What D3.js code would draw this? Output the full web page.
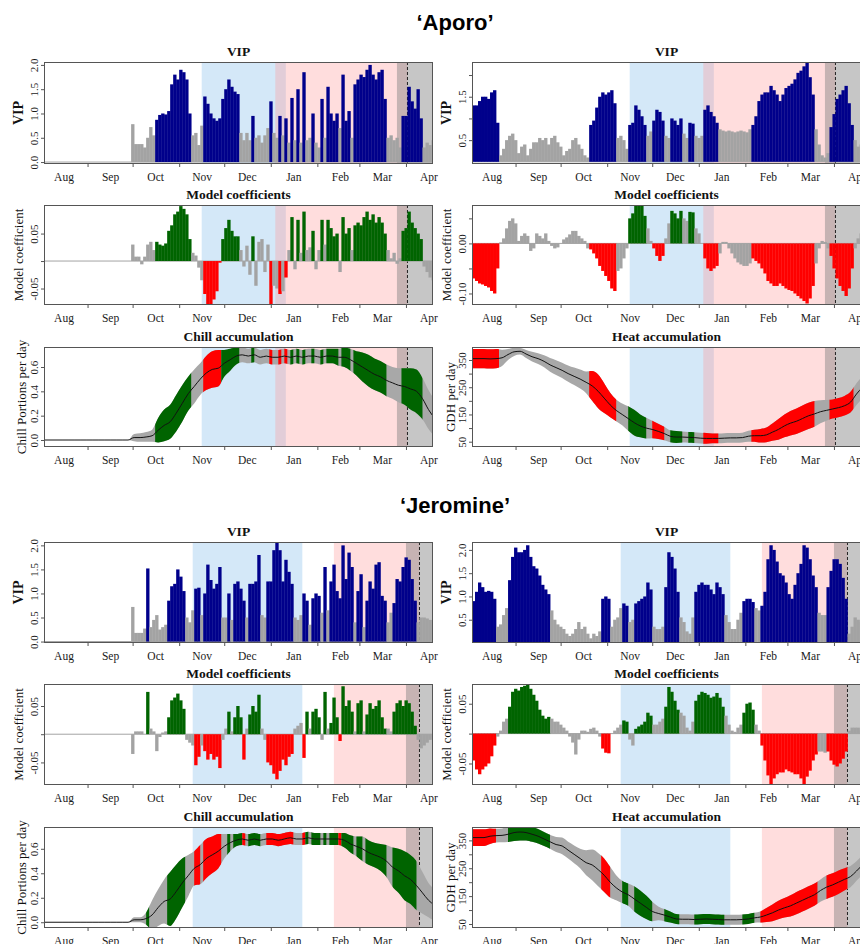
<!DOCTYPE html>
<html>
<head>
<meta charset="utf-8">
<script src="https://cdn.jsdelivr.net/npm/d3@7/dist/d3.min.js"></script>
<style>
html,body{margin:0;padding:0;background:#fff;}
svg{display:block;}
</style>
</head>
<body>
<svg id="chart" width="860" height="944"></svg>
<script>
// ---------------- calendar ----------------
const seasonStart = "2001-08-03";
const seasonEnd = "2002-04-19";
const monthLabels = ["Aug","Sep","Oct","Nov","Dec","Jan","Feb","Mar","Apr"];
const monthStarts = ["2001-08-01","2001-09-01","2001-10-01","2001-11-01","2001-12-01","2002-01-01","2002-02-01","2002-03-01","2002-04-01"];
const barStepDays = 2;     // one bar value per 2 days
const accumStepDays = 4;   // one accumulation value per 4 days

// ---------------- periods ----------------
const aporoChillPeriod = ["2001-11-16","2002-01-11"];
const aporoForcingPeriod = ["2002-01-04","2002-04-02"];
const aporoBloomWindow = ["2002-03-26","2002-04-30"];
const aporoBloomMean = "2002-04-02";
const jeromineChillPeriod = ["2001-11-10","2002-01-22"];
const jeromineForcingPeriod = ["2002-02-12","2002-04-10"];
const jeromineBloomWindow = ["2002-04-01","2002-04-30"];
const jeromineBloomMean = "2002-04-10";

// ---------------- 'Aporo' data ----------------
const aporoVipChill = [0,0,0,0,0,0,0,0,0,0,0,0,0,0,0,0,0,0,0,0,0,0,0,0,0,0,0,0,0,
 0.78,0.37,0.37,0.37,0.3,0.5,0.72,0.55,
 0.87,0.97,1.0,0.98,1.05,1.6,1.8,1.7,1.9,1.85,1.7,1.0,
 0.55,0.6,0.35,0.75,
 1.35,1.2,1.0,0.9,0.85,0.9,
 1.3,1.5,1.7,1.55,1.45,1.4,
 0.6,0.45,0.6,0.45,0.95,0.5,0.55,0.4,0.55,0.7,1.25,0.6,0.5,0.95,0.55,0.9,0.4,1.32,0.45,1.5,0.4,1.85,0.45,0.5,1.0,0.4,0.3,1.3,0.5,
 1.55,1.0,0.85,1.0,0.7,1.8,0.85,1.05,0.5,
 1.6,1.7,1.8,1.75,1.9,2.0,1.8,1.7,1.85,1.9,1.3,
 0.5,0.55,0.45,0.5,0.3,
 0.95,0.95,1.55,1.25,1.1,1.5,0.9,
 0.3,0.4,0.35,0.45];
const aporoCoefChill = [0,0,0,0,0,0,0,0,0,0,0,0,0,0,0,0,0,0,0,0,0,0,0,0,0,0,0,0,0,
 0.03,0.008,0.008,-0.006,0.008,0.03,0.035,0.02,
 0.035,0.03,0.028,0.032,0.055,0.065,0.085,0.09,0.1,0.095,0.085,0.04,
 0.015,0.01,-0.012,-0.035,
 -0.06,-0.08,-0.08,-0.07,-0.055,-0.003,
 0.04,0.06,0.075,0.055,0.045,0.045,
 0.02,-0.01,0.028,-0.025,0.045,-0.045,0.035,0.04,-0.02,0.03,-0.08,-0.045,-0.05,-0.06,-0.055,-0.03,0.02,0.08,-0.015,0.075,0.015,0.09,0.02,0.025,0.055,-0.015,0.02,0.075,0.03,
 0.075,0.06,0.045,0.05,-0.02,0.08,0.05,0.06,0.02,
 0.065,0.07,0.065,0.08,0.09,0.075,0.085,0.07,0.08,0.07,0.05,
 0.02,0.005,0.015,-0.005,0.005,
 0.055,0.06,0.09,0.07,0.06,0.05,0.04,
 -0.01,-0.02,-0.03,-0.035];
const aporoChillMean = [0,0,0,0,0,0,0,0,0,0,0,0,0,0,0,
 0.02,0.02,0.025,0.035,0.08,0.12,0.15,0.22,0.3,0.38,0.44,0.5,0.55,0.58,0.59,
 0.63,0.66,0.69,0.7,0.69,0.7,0.68,0.69,0.68,0.68,0.69,0.68,0.69,0.68,0.69,0.69,0.68,0.69,0.69,0.68,0.68,
 0.66,0.63,0.6,0.57,0.54,0.52,0.49,0.47,0.45,0.44,0.42,0.4,0.34,0.25,0.18];
const aporoChillSd = [0,0,0,0,0,0,0,0,0,0,0,0,0,0,0,
 0.03,0.035,0.04,0.05,0.1,0.13,0.14,0.15,0.15,0.14,0.14,0.13,0.14,0.15,0.15,
 0.11,0.09,0.07,0.06,0.06,0.06,0.06,0.06,0.06,0.06,0.06,0.06,0.06,0.06,0.06,0.06,0.06,0.06,0.06,0.07,0.08,
 0.09,0.1,0.12,0.13,0.13,0.13,0.13,0.13,0.14,0.15,0.17,0.18,0.17,0.16,0.15];
const aporoVipHeat = [1.3,1.3,1.4,1.5,1.5,1.45,1.6,1.65,0.9,
 0.15,0.3,0.5,0.6,0.65,0.5,0.2,0.35,0.4,0.15,0.3,0.45,0.45,0.55,0.5,0.55,0.4,0.55,0.6,0.45,0.35,0.15,0.25,0.3,0.5,0.55,0.4,0.3,0.15,0.1,
 0.85,0.95,1.25,1.5,1.6,1.55,1.6,1.65,1.35,
 0.55,0.6,0.5,0.3,
 0.85,0.9,1.3,1.2,1.05,0.85,
 0.6,0.7,
 0.95,1.2,1.15,0.95,
 0.6,0.55,
 1.0,0.95,0.85,1.0,
 0.65,0.55,
 0.9,0.88,
 0.6,0.55,0.6,
 1.2,1.3,1.15,1.05,0.9,
 0.75,0.72,0.7,0.72,0.7,0.68,0.7,0.72,0.7,0.68,0.75,
 0.85,1.05,1.4,1.55,1.6,1.6,1.75,1.65,1.55,1.4,1.55,1.7,1.75,1.8,1.9,2.05,2.1,2.2,2.3,1.95,1.55,
 0.75,0.4,0.15,0.1,0.2,
 0.8,1.1,1.45,1.55,1.65,1.75,1.35,0.85,
 0.5,0.35,0.4];
const aporoCoefHeat = [-0.07,-0.075,-0.08,-0.082,-0.085,-0.088,-0.095,-0.1,-0.05,
 0.002,0.01,0.03,0.045,0.05,0.04,0.005,0.015,0.02,0.015,-0.015,-0.01,0.02,0.015,0.01,0.02,0.005,-0.005,-0.01,-0.008,0.0,0.008,0.012,0.018,0.025,0.025,0.015,0.01,0.005,-0.01,
 -0.012,-0.02,-0.03,-0.045,-0.055,-0.065,-0.075,-0.09,-0.095,
 -0.055,-0.05,-0.03,-0.01,
 0.05,0.06,0.08,0.08,0.075,0.055,
 0.03,0.005,
 -0.01,-0.025,-0.035,-0.025,
 0.01,0.04,
 0.065,0.06,0.05,0.065,
 0.05,0.045,
 0.063,0.062,
 0.03,0.02,0.0,
 -0.03,-0.05,-0.055,-0.05,-0.045,
 -0.02,0.003,0.003,-0.01,-0.02,-0.03,-0.038,-0.042,-0.045,-0.045,-0.04,
 -0.03,-0.035,-0.04,-0.05,-0.06,-0.075,-0.08,-0.085,-0.085,-0.08,-0.085,-0.09,-0.093,-0.095,-0.1,-0.105,-0.11,-0.115,-0.12,-0.11,-0.085,
 -0.04,-0.01,0.005,0.003,-0.01,
 -0.025,-0.05,-0.07,-0.085,-0.095,-0.105,-0.09,-0.05,
 -0.01,0.01,0.02];
const aporoHeatMean = [355,355,355,354,355,358,370,380,382,372,362,
 355,345,332,322,312,300,290,280,268,255,235,
 210,185,165,150,135,120,108,100,95,88,80,
 70,67,67,66,65,63,62,62,62,63,64,
 64,65,70,72,72,75,85,95,108,118,125,
 135,145,152,160,165,170,175,182,195,225,250];
const aporoHeatSd = [35,35,35,35,35,30,20,15,12,15,18,
 20,22,25,27,28,30,32,35,40,55,62,
 55,45,40,40,45,47,42,38,32,28,25,
 22,22,20,20,20,20,20,18,18,18,18,
 18,18,20,22,25,27,32,38,42,45,47,
 48,48,47,42,38,35,35,36,38,40,40];

// ---------------- 'Jeromine' data ----------------
const jeromineVipChill = [0,0,0,0,0,0,0,0,0,0,0,0,0,0,0,0,0,0,0,0,0,0,0,0,0,0,0,0,0,
 0.72,0.18,0.18,0.18,0.27,1.52,
 0.3,0.45,0.55,0.25,0.3,0.35,
 0.85,1.15,1.2,1.5,1.35,1.05,
 0.5,0.4,0.65,1.1,1.12,0.55,
 1.0,1.6,1.28,1.1,1.2,1.55,
 0.5,0.5,1.0,0.45,
 1.2,1.25,1.1,0.85,0.5,
 1.2,1.2,1.25,1.8,0.55,0.5,
 1.25,1.25,1.9,2.05,1.9,1.25,1.7,1.45,1.2,
 0.5,0.45,0.55,1.0,0.85,0.35,
 0.9,1.0,0.95,0.6,1.55,0.65,
 1.25,1.6,1.05,0.9,
 2.0,1.3,1.85,1.55,0.4,1.05,1.4,0.3,
 0.85,1.25,1.1,1.6,1.65,0.95,0.85,
 0.4,0.6,
 0.8,1.3,1.25,1.55,1.75,1.7,1.3,0.85,
 0.4,0.5,0.5,0.48,0.45,0.35];
const jeromineCoefChill = [0,0,0,0,0,0,0,0,0,0,0,0,0,0,0,0,0,0,0,0,0,0,0,0,0,0,0,0,0,
 -0.035,0.005,0.005,0.005,0.0,0.075,
 0.01,0.005,-0.03,-0.005,0.003,0.005,
 0.03,0.06,0.065,0.072,0.06,0.045,
 -0.01,-0.015,-0.02,-0.055,-0.04,-0.02,
 -0.03,-0.045,-0.035,-0.045,-0.04,-0.06,
 -0.01,0.01,0.04,0.005,
 0.03,0.05,0.03,-0.045,0.01,
 0.035,0.05,0.04,0.07,0.01,-0.01,
 -0.05,-0.055,-0.07,-0.08,-0.065,-0.045,-0.055,-0.04,-0.035,
 0.01,0.015,0.02,-0.042,0.04,0.01,
 0.04,0.045,0.03,-0.01,0.075,0.01,
 0.02,0.065,0.03,-0.012,
 0.085,0.05,0.06,0.04,0.005,0.055,0.06,0.005,
 0.035,0.055,0.045,0.05,0.06,0.03,0.01,
 0.01,0.005,
 0.04,0.055,0.06,0.05,0.06,0.055,0.04,0.015,
 -0.01,-0.025,-0.02,-0.015,-0.01,-0.005];
const jeromineChillMean = [0,0,0,0,0,0,0,0,0,0,0,0,0,0,0,
 0.02,0.02,0.03,0.06,0.12,0.17,0.19,0.25,0.32,0.38,0.44,0.47,0.52,0.55,0.58,
 0.62,0.65,0.67,0.68,0.67,0.68,0.67,0.68,0.68,0.67,0.68,0.69,0.68,0.68,0.69,0.68,0.68,0.68,0.68,0.68,0.67,
 0.64,0.62,0.6,0.57,0.55,0.53,0.5,0.45,0.42,0.38,0.35,0.3,0.24,0.18,0.14];
const jeromineChillSd = [0,0,0,0,0,0,0,0,0,0,0,0,0,0,0,
 0.02,0.02,0.05,0.12,0.15,0.18,0.22,0.22,0.2,0.17,0.14,0.16,0.16,0.15,0.14,
 0.1,0.07,0.05,0.05,0.05,0.05,0.05,0.05,0.05,0.05,0.05,0.05,0.05,0.05,0.05,0.05,0.05,0.05,0.05,0.05,0.06,
 0.07,0.08,0.1,0.1,0.1,0.11,0.13,0.16,0.18,0.2,0.2,0.2,0.17,0.14,0.13];
const jeromineVipHeat = [0.9,1.1,1.3,1.2,1.1,1.12,1.1,0.95,
 0.35,0.4,0.6,0.75,
 1.35,1.85,2.05,1.95,1.95,2.0,2.1,1.85,1.65,1.6,1.45,1.25,1.15,1.05,
 0.7,0.5,0.4,0.35,0.3,0.2,0.15,0.2,0.3,0.45,0.3,0.35,0.2,0.1,0.2,0.15,0.25,
 0.95,1.0,0.95,
 0.35,0.5,0.55,0.75,
 0.85,0.8,
 0.45,0.5,
 0.85,0.9,0.95,1.0,1.3,1.15,
 0.35,0.3,0.3,0.35,
 1.2,1.95,1.85,1.6,1.1,
 0.55,0.45,0.25,0.2,0.55,
 1.1,1.25,1.3,1.25,1.25,1.15,1.05,1.3,1.2,1.05,
 0.6,0.45,0.3,0.3,0.5,0.65,
 0.9,0.95,0.95,0.88,
 0.75,0.7,
 0.8,1.1,1.8,2.1,2.0,1.75,1.5,1.45,1.3,1.05,0.95,1.25,1.5,1.7,2.1,2.05,1.8,1.45,1.2,
 0.65,0.6,0.6,
 1.2,1.55,1.8,1.8,1.7,1.4,0.95,
 0.2,0.35,0.55,0.5,0.45];
const jeromineCoefHeat = [-0.045,-0.06,-0.068,-0.06,-0.055,-0.05,-0.038,-0.02,
 -0.005,0.005,0.02,0.025,
 0.045,0.07,0.075,0.072,0.078,0.08,0.085,0.075,0.065,0.055,0.04,0.03,0.025,0.028,
 0.025,0.02,0.02,0.015,0.01,0.005,-0.005,-0.015,-0.035,-0.01,0.005,0.005,0.003,0.008,0.01,0.005,-0.005,
 -0.025,-0.032,-0.033,
 0.0,0.005,0.01,0.015,
 0.022,0.02,
 -0.01,-0.02,
 0.008,0.012,0.015,0.02,0.035,0.03,
 0.015,0.015,0.02,0.025,
 0.045,0.078,0.07,0.055,0.04,
 0.035,0.03,0.01,0.005,0.02,
 0.055,0.065,0.07,0.068,0.065,0.06,0.062,0.068,0.06,0.045,
 0.03,0.015,0.005,0.003,0.01,0.015,
 0.035,0.05,0.052,0.04,
 0.015,0.005,
 -0.02,-0.045,-0.07,-0.085,-0.075,-0.068,-0.065,-0.065,-0.06,-0.063,-0.065,-0.068,-0.068,-0.075,-0.085,-0.072,-0.062,-0.045,-0.035,
 -0.03,-0.03,-0.032,
 -0.03,-0.045,-0.052,-0.055,-0.05,-0.042,-0.03,
 0.005,0.01,0.01,0.01,0.005];
const jeromineHeatMean = [360,360,360,365,367,368,372,378,380,378,372,
 365,355,345,335,330,315,300,285,270,262,245,
 225,200,180,165,155,140,125,110,95,88,82,
 75,68,67,67,66,67,68,67,66,65,65,
 65,66,68,72,75,82,90,100,108,115,125,
 135,145,155,170,182,190,200,210,220,240,262];
const jeromineHeatSd = [30,30,30,28,25,25,28,30,30,28,27,
 26,25,25,27,30,30,32,35,45,55,60,
 60,55,45,40,40,45,45,42,35,25,22,
 20,18,18,18,18,18,18,18,18,18,18,
 18,18,18,18,20,25,30,33,35,38,40,
 40,40,40,40,42,42,42,40,38,35,35];

// ---------------- drawing ----------------
const svg = d3.select("#chart");
const parse = d3.utcParse("%Y-%m-%d");
const t0 = parse(seasonStart), t1 = parse(seasonEnd);
const SERIF = "'Liberation Serif','Times New Roman',Times,serif";
const SANS = "'Liberation Sans',Arial,Helvetica,sans-serif";
const COL = {blue:"#00008b", grey:"#a3a3a3", green:"#006400", red:"#ff0000", band:"#a8a8a8"};
const VIP_THRESHOLD = 0.8;
let clipN = 0;
function newClip(x, y, w, h) {
  const id = "cp" + (clipN++);
  svg.append("clipPath").attr("id", id).append("rect")
    .attr("x", x).attr("y", y).attr("width", w).attr("height", h);
  return `url(#${id})`;
}
const barDate = i => d3.utcDay.offset(t0, i * barStepDays);
const accDate = k => d3.utcDay.offset(t0, k * accumStepDays);
function klass(v, c) {
  if (v < VIP_THRESHOLD) return null;
  if (c > 0) return "pos";
  if (c < 0) return "neg";
  return null;
}

function frame(c) {
  const x = d3.scaleUtc().domain([t0, t1]).range([c.x0, c.x1]);
  const y = d3.scaleLinear().domain(c.yDomain).range([c.bottom, c.top]);
  const g = svg.append("g");
  const inner = g.append("g").attr("clip-path", newClip(c.x0, c.top, c.x1 - c.x0, c.bottom - c.top));
  const P = c.periods;
  const shade = (r, fill) => inner.append("rect")
    .attr("x", x(parse(r[0]))).attr("width", x(parse(r[1])) - x(parse(r[0])))
    .attr("y", c.top).attr("height", c.bottom - c.top).attr("fill", fill);
  shade(P.chill, "rgba(135,190,235,0.36)");
  shade(P.forcing, "rgba(255,150,150,0.32)");
  shade(P.bloom, "rgba(128,128,128,0.45)");
  const xm = x(parse(P.mean));
  inner.append("line").attr("x1", xm).attr("x2", xm).attr("y1", c.top).attr("y2", c.bottom)
    .attr("stroke", "#222").attr("stroke-width", 1).attr("stroke-dasharray", "3,2");
  return {x, y, g, inner};
}

function finish(f, c) {
  const {x, y, g} = f;
  const mStarts = monthStarts.map(parse).filter(d => d >= t0 && d <= t1);
  const xa = g.append("g").attr("transform", `translate(0,${c.bottom})`)
    .call(d3.axisBottom(x).tickValues(mStarts).tickSize(3).tickFormat(""));
  const mids = monthStarts.map(s => d3.utcDay.offset(parse(s), 15));
  const xb = g.append("g").attr("transform", `translate(0,${c.bottom})`)
    .call(d3.axisBottom(x).tickValues(mids).tickSize(0).tickPadding(9).tickFormat((d, i) => monthLabels[i]));
  [xa, xb].forEach(a => {
    a.select(".domain").remove();
    a.attr("font-family", SERIF).attr("font-size", 11.5);
    a.selectAll("line").attr("stroke", "#555");
  });
  xb.selectAll("text").attr("fill", "#1a1a1a");
  const ya = g.append("g").attr("transform", `translate(${c.x0},0)`)
    .call(d3.axisLeft(y).tickValues(c.yTicks).tickSize(3)
      .tickFormat(d => c.yLabels.includes(d) ? c.fmt(d).replace("\u2212", "-") : ""));
  ya.select(".domain").remove();
  ya.attr("font-family", SERIF).attr("font-size", 11);
  ya.selectAll("line").attr("stroke", "#555");
  ya.selectAll("text").attr("transform", "rotate(-90)").attr("x", 0).attr("y", -6)
    .attr("dy", null).attr("text-anchor", "middle").attr("fill", "#1a1a1a");
  g.append("rect").attr("x", c.x0 + 0.5).attr("y", c.top + 0.5)
    .attr("width", c.x1 - c.x0 - 1).attr("height", c.bottom - c.top - 1)
    .attr("fill", "none").attr("stroke", "#555").attr("stroke-width", 1);
  g.append("text").attr("x", (c.x0 + c.x1) / 2).attr("y", c.top - 6)
    .attr("text-anchor", "middle").attr("font-family", SERIF).attr("font-weight", "bold")
    .attr("font-size", 13.5).attr("fill", "#111").text(c.title);
  g.append("text").attr("transform", `translate(${c.x0 - c.ylabOff},${(c.top + c.bottom) / 2}) rotate(-90)`)
    .attr("text-anchor", "middle").attr("font-family", SERIF).attr("font-size", c.ylabSize || 13)
    .attr("font-weight", c.ylabWeight || "normal")
    .attr("fill", "#111").text(c.ylab);
}

function bars(f, vals, colorOf) {
  f.inner.append("line").attr("x1", f.x.range()[0]).attr("x2", f.x.range()[1])
    .attr("y1", f.y(0)).attr("y2", f.y(0)).attr("stroke", COL.grey).attr("stroke-width", 1);
  f.inner.append("g").selectAll("rect").data(vals).join("rect")
    .attr("x", (v, i) => f.x(barDate(i)))
    .attr("width", (v, i) => f.x(barDate(i + 1)) - f.x(barDate(i)) + 0.35)
    .attr("y", v => Math.min(f.y(v), f.y(0)))
    .attr("height", v => Math.abs(f.y(v) - f.y(0)))
    .attr("fill", (v, i) => colorOf(i));
}

function runs(vip, coef) {
  const out = []; let cur = null;
  vip.forEach((v, i) => {
    const c = klass(v, coef[i]);
    if (c && cur && cur.c === c && cur.e === i - 1) cur.e = i;
    else if (c) { cur = {c, s: i, e: i}; out.push(cur); }
    else cur = null;
  });
  return out;
}

function accumulation(f, c, mean, sd, vip, coef) {
  const pts = mean.map((m, k) => ({d: accDate(k), m, s: sd[k]}));
  const area = d3.area().x(p => f.x(p.d)).y0(p => f.y(p.m - p.s)).y1(p => f.y(p.m + p.s))
    .curve(d3.curveMonotoneX);
  f.inner.append("path").attr("d", area(pts)).attr("fill", COL.band);
  runs(vip, coef).forEach(r => {
    const xa = f.x(barDate(r.s)), xb = f.x(barDate(r.e + 1));
    f.inner.append("path").attr("d", area(pts))
      .attr("fill", r.c === "pos" ? COL.green : COL.red)
      .attr("clip-path", newClip(xa, c.top, xb - xa, c.bottom - c.top));
  });
  const line = d3.line().x(p => f.x(p.d)).y(p => f.y(p.m)).curve(d3.curveMonotoneX);
  f.inner.append("path").attr("d", line(pts)).attr("fill", "none").attr("stroke", "#111").attr("stroke-width", 1);
}

function group(G) {
  svg.append("text").attr("x", 455).attr("y", G.titleY).attr("text-anchor", "middle")
    .attr("font-family", SANS).attr("font-weight", "bold").attr("font-size", 22).attr("fill", "#000")
    .text(G.name);
  const cols = [
    {x0: 44, x1: 433, vip: G.vipChill, coef: G.coefChill, mean: G.chillMean, sd: G.chillSd},
    {x0: 472, x1: 861, vip: G.vipHeat, coef: G.coefHeat, mean: G.heatMean, sd: G.heatSd}
  ];
  cols.forEach((col, ci) => {
    const S = G.scales[ci];
    // VIP
    let c = Object.assign({x0: col.x0, x1: col.x1, periods: G.periods, title: "VIP", ylab: "VIP", ylabOff: 21, ylabSize: 14, ylabWeight: "bold"}, G.rows[0], S.vip);
    let f = frame(c);
    bars(f, col.vip, i => col.vip[i] >= VIP_THRESHOLD ? COL.blue : COL.grey);
    finish(f, c);
    // coefficients
    c = Object.assign({x0: col.x0, x1: col.x1, periods: G.periods, title: "Model coefficients", ylab: "Model coefficient", ylabOff: 21}, G.rows[1], S.coef);
    f = frame(c);
    bars(f, col.coef, i => {
      const k = klass(col.vip[i], col.coef[i]);
      return k === "pos" ? COL.green : k === "neg" ? COL.red : COL.grey;
    });
    finish(f, c);
    // accumulation
    c = Object.assign({x0: col.x0, x1: col.x1, periods: G.periods}, G.rows[2], S.acc);
    f = frame(c);
    accumulation(f, c, col.mean, col.sd, col.vip, col.coef);
    finish(f, c);
  });
}

const f1 = d3.format(".1f"), f2 = d3.format(".2f"), f0 = d3.format("d");
const chillAxis = {title: "Chill accumulation", ylab: "Chill Portions per day", ylabOff: 18, yTicks: [0, 0.2, 0.4, 0.6], yLabels: [0, 0.2, 0.4, 0.6], fmt: f1};
const heatAxis = {title: "Heat accumulation", ylab: "GDH per day", ylabOff: 17, yTicks: [50, 100, 150, 200, 250, 300, 350], yLabels: [50, 150, 250, 350], fmt: f0};

group({
  name: "\u2018Aporo\u2019", titleY: 30,
  periods: {chill: aporoChillPeriod, forcing: aporoForcingPeriod, bloom: aporoBloomWindow, mean: aporoBloomMean},
  rows: [{top: 62, bottom: 164}, {top: 205, bottom: 305}, {top: 347, bottom: 447}],
  vipChill: aporoVipChill, coefChill: aporoCoefChill, chillMean: aporoChillMean, chillSd: aporoChillSd,
  vipHeat: aporoVipHeat, coefHeat: aporoCoefHeat, heatMean: aporoHeatMean, heatSd: aporoHeatSd,
  scales: [
    {vip: {yDomain: [-0.04, 2.06], yTicks: [0, 0.5, 1, 1.5, 2], yLabels: [0, 0.5, 1, 1.5, 2], fmt: f1},
     coef: {yDomain: [-0.08, 0.102], yTicks: [-0.05, 0, 0.05], yLabels: [-0.05, 0.05], fmt: f2},
     acc: Object.assign({yDomain: [-0.0575, 0.7644]}, chillAxis)},
    {vip: {yDomain: [-0.05, 2.3], yTicks: [0.5, 1, 1.5, 2], yLabels: [0.5, 1.5], fmt: f1},
     coef: {yDomain: [-0.123, 0.0767], yTicks: [-0.1, -0.05, 0, 0.05], yLabels: [-0.1, 0], fmt: f2},
     acc: Object.assign({yDomain: [30.5, 397.7]}, heatAxis)}
  ]
});

group({
  name: "\u2018Jeromine\u2019", titleY: 513,
  periods: {chill: jeromineChillPeriod, forcing: jeromineForcingPeriod, bloom: jeromineBloomWindow, mean: jeromineBloomMean},
  rows: [{top: 542, bottom: 643}, {top: 684, bottom: 785}, {top: 827, bottom: 928}],
  vipChill: jeromineVipChill, coefChill: jeromineCoefChill, chillMean: jeromineChillMean, chillSd: jeromineChillSd,
  vipHeat: jeromineVipHeat, coefHeat: jeromineCoefHeat, heatMean: jeromineHeatMean, heatSd: jeromineHeatSd,
  scales: [
    {vip: {yDomain: [-0.03, 2.07], yTicks: [0, 0.5, 1, 1.5, 2], yLabels: [0, 0.5, 1, 1.5, 2], fmt: f1},
     coef: {yDomain: [-0.09, 0.089], yTicks: [-0.05, 0, 0.05], yLabels: [-0.05, 0.05], fmt: f2},
     acc: Object.assign({yDomain: [-0.047, 0.778]}, chillAxis)},
    {vip: {yDomain: [0.0, 2.17], yTicks: [0.5, 1, 1.5, 2], yLabels: [0.5, 1, 1.5, 2], fmt: f1},
     coef: {yDomain: [-0.086, 0.083], yTicks: [-0.05, 0, 0.05], yLabels: [-0.05, 0.05], fmt: f2},
     acc: Object.assign({yDomain: [35.6, 398]}, heatAxis)}
  ]
});

// sanity check of series lengths
const lens = {aporoVipChill, aporoCoefChill, aporoVipHeat, aporoCoefHeat, jeromineVipChill, jeromineCoefChill, jeromineVipHeat, jeromineCoefHeat};
const bad = Object.entries(lens).filter(([k, v]) => v.length !== 130).map(([k, v]) => k + ":" + v.length);
const accs = {aporoChillMean, aporoChillSd, aporoHeatMean, aporoHeatSd, jeromineChillMean, jeromineChillSd, jeromineHeatMean, jeromineHeatSd};
Object.entries(accs).forEach(([k, v]) => { if (v.length !== 66) bad.push(k + ":" + v.length); });
if (bad.length) throw new Error("length mismatch " + bad.join(", "));
</script>
</body>
</html>
